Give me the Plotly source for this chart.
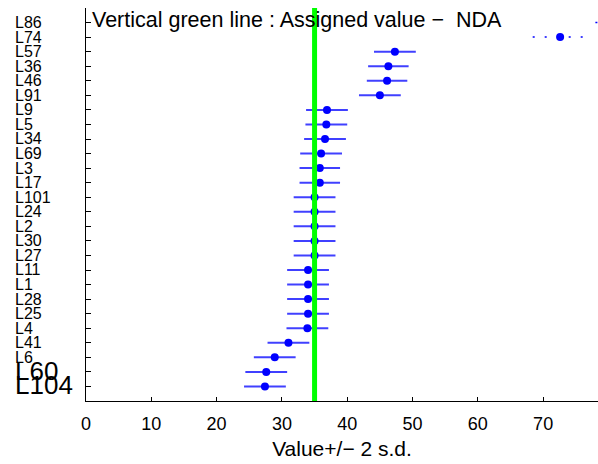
import plotly.graph_objects as go

labs = ["L86", "L74", "L57", "L36", "L46", "L91", "L9", "L5", "L34", "L69", "L3", "L17",
        "L101", "L24", "L2", "L30", "L27", "L11", "L1", "L28", "L25", "L4", "L41", "L6",
        "L60", "L104"]
values = [82.0, 72.6, 47.3, 46.3, 46.1, 45.0, 36.9, 36.8, 36.6, 36.0, 35.8, 35.8,
          35.0, 35.0, 35.0, 35.0, 35.0, 34.0, 34.0, 34.0, 34.0, 33.9, 31.0, 28.9,
          27.6, 27.4]
two_sd = [4.0, 4.2, 3.2, 3.1, 3.1, 3.2, 3.2, 3.2, 3.2, 3.2, 3.1, 3.1,
          3.2, 3.2, 3.2, 3.2, 3.2, 3.2, 3.2, 3.2, 3.2, 3.2, 3.2, 3.2,
          3.2, 3.2]
outliers = ["L86", "L74"]
big_labels = ["L60", "L104"]
assigned_value = 35.0
x_ticks = [0, 10, 20, 30, 40, 50, 60, 70]

FONT = "Liberation Sans, Arial, Helvetica, sans-serif"
W, H = 598, 464
LABEL_LEFT = 15          # px where the label column starts
PLOT_LEFT = 86           # px where the plot area starts
MT, MB = 8, 63
X_MAX = 78.4
n = len(labs)
ypos = [n - 1 - i for i in range(n)]

split = (PLOT_LEFT - LABEL_LEFT) / (W - LABEL_LEFT)

fig = go.Figure()

solid_x, solid_y, dot_x, dot_y = [], [], [], []
for lab, v, s, y in zip(labs, values, two_sd, ypos):
    if lab in outliers:
        dot_x += [v - s, v + s, None]
        dot_y += [y, y, None]
    else:
        solid_x += [v - s, v + s, None]
        solid_y += [y, y, None]

fig.add_trace(go.Scatter(x=solid_x, y=solid_y, mode="lines",
                         line=dict(color="rgba(30,30,255,0.85)", width=2),
                         hoverinfo="skip", showlegend=False))
fig.add_trace(go.Scatter(x=dot_x, y=dot_y, mode="lines",
                         line=dict(color="#0000ff", width=1.5, dash="2px,10px"),
                         hoverinfo="skip", showlegend=False))
fig.add_trace(go.Scatter(x=values, y=ypos, mode="markers", text=labs,
                         marker=dict(color="#0000ff", size=8, line=dict(width=0)),
                         showlegend=False))

# laboratory labels in a left-aligned column (own x axis in the left strip)
fig.add_trace(go.Scatter(x=[0] * n, y=[y - 0.1 for y in ypos], mode="text",
                         xaxis="x2", yaxis="y",
                         text=labs, textposition="middle right", cliponaxis=False,
                         textfont=dict(family=FONT, color="black",
                                       size=[26 if l in big_labels else 16 for l in labs]),
                         hoverinfo="skip", showlegend=False))

fig.add_shape(type="line", xref="x", yref="paper", x0=assigned_value, x1=assigned_value,
              y0=0, y1=1, line=dict(color="#00ff00", width=5), layer="above")

fig.add_annotation(text="Vertical green line : Assigned value \u2212  NDA",
                   xref="paper", yref="paper", x=split + 4 / (W - LABEL_LEFT), y=1.006,
                   xanchor="left", yanchor="top", showarrow=False,
                   font=dict(family=FONT, size=21.5, color="black"))

fig.update_layout(
    width=W, height=H,
    margin=dict(l=LABEL_LEFT, r=0, t=MT, b=MB),
    paper_bgcolor="white", plot_bgcolor="white",
    font=dict(family=FONT, color="black"),
    xaxis=dict(domain=[split, 1], range=[0, X_MAX], tickvals=x_ticks, ticks="inside",
               ticklen=4, tickcolor="black", showline=True, linecolor="black",
               linewidth=1, showgrid=False, zeroline=False, tickfont=dict(size=18),
               ticklabelstandoff=6,
               title=dict(text="Value+/\u2212 2 s.d.", font=dict(size=21), standoff=8)),
    xaxis2=dict(domain=[0, split], range=[0, 1], visible=False, anchor="y",
                fixedrange=True),
    yaxis=dict(range=[-1, 26], tickvals=ypos, showticklabels=False, ticks="inside",
               ticklen=5, tickcolor="black", showline=True, linecolor="black",
               linewidth=1, showgrid=False, zeroline=False, anchor="x"),
)

fig.write_html("out.html", config={"displayModeBar": False},
               post_script="document.body.style.margin='0';"
                           "document.body.style.overflow='hidden';")
